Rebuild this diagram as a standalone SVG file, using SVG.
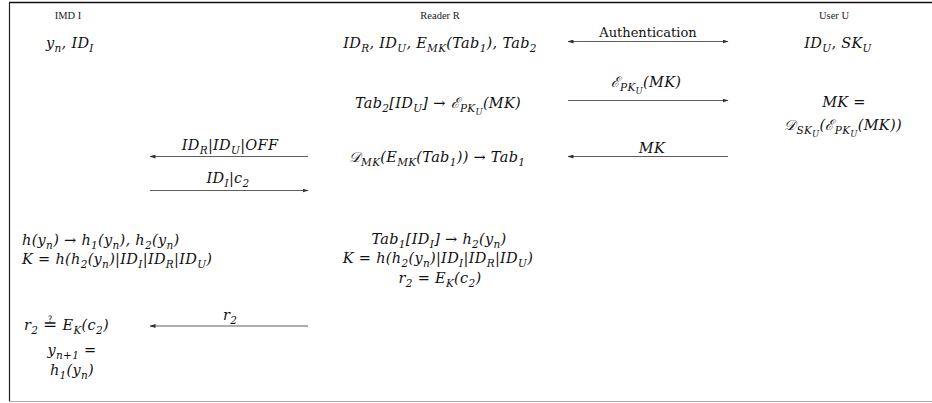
<svg xmlns="http://www.w3.org/2000/svg" width="932" height="403" viewBox="0 0 932 403">
  <style>
    .hd { font-family: "Liberation Serif", "DejaVu Serif", serif; font-size: 10.5px; fill: #222; }
    .m { font-family: "DejaVu Serif", "Liberation Serif", serif; font-style: italic; font-size: 14.5px; letter-spacing: 0.3px; fill: #111; }
    .up { font-family: "DejaVu Serif", "Liberation Serif", serif; font-size: 13px; fill: #111; }
    .eq { font-size: 17px; font-style: normal; }
    .s { font-size: 10.5px; }
    .ss { font-size: 8.5px; }
    .c { text-anchor: middle; }
    .ln { stroke: #333; stroke-width: 0.8; fill: none; }
  </style>
  <defs>
    <marker id="ah" viewBox="0 0 6 4" refX="5.5" refY="2" markerWidth="6" markerHeight="4" orient="auto-start-reverse" markerUnits="userSpaceOnUse">
      <path d="M0,0 L6,2 L0,4 Z" fill="#333"/>
    </marker>
  </defs>

  <rect width="932" height="403" fill="#fff"/>

  <!-- frame -->
  <g id="frame">
    <line x1="9" y1="2.5" x2="932" y2="2.5" stroke="#111" stroke-width="1.5"/>
    <line x1="9.5" y1="2" x2="9.5" y2="401" stroke="#222" stroke-width="1.2"/>
    <line x1="9" y1="401.5" x2="932" y2="401.5" stroke="#aaa" stroke-width="1.2"/>
  </g>

  <!-- IMD I column -->
  <g id="imd">
    <text class="hd c" x="68" y="19">IMD I</text>
    <text class="m" x="46" y="48">y<tspan class="s" dy="4">n</tspan><tspan dy="-4">, ID</tspan><tspan class="s" dy="4">I</tspan></text>
    <text class="m" x="22" y="245">h(y<tspan class="s" dy="4">n</tspan><tspan dy="-4">) → h</tspan><tspan class="s" dy="4">1</tspan><tspan dy="-4">(y</tspan><tspan class="s" dy="4">n</tspan><tspan dy="-4">), h</tspan><tspan class="s" dy="4">2</tspan><tspan dy="-4">(y</tspan><tspan class="s" dy="4">n</tspan><tspan dy="-4">)</tspan></text>
    <text class="m" x="22" y="264">K = h(h<tspan class="s" dy="4">2</tspan><tspan dy="-4">(y</tspan><tspan class="s" dy="4">n</tspan><tspan dy="-4">)|ID</tspan><tspan class="s" dy="4">I</tspan><tspan dy="-4">|ID</tspan><tspan class="s" dy="4">R</tspan><tspan dy="-4">|ID</tspan><tspan class="s" dy="4">U</tspan><tspan dy="-4">)</tspan></text>
    <text class="m" x="24" y="330">r<tspan class="s" dy="4">2</tspan><tspan class="eq" dy="-4" dx="5">≟</tspan><tspan dx="5">E</tspan><tspan class="s" dy="4">K</tspan><tspan dy="-4">(c</tspan><tspan class="s" dy="4">2</tspan><tspan dy="-4">)</tspan></text>
    <text class="m c" x="72" y="355">y<tspan class="s" dy="4">n+1</tspan><tspan dy="-4"> =</tspan></text>
    <text class="m c" x="72" y="375">h<tspan class="s" dy="4">1</tspan><tspan dy="-4">(y</tspan><tspan class="s" dy="4">n</tspan><tspan dy="-4">)</tspan></text>
  </g>

  <!-- Reader R column -->
  <g id="reader">
    <text class="hd c" x="440" y="19">Reader R</text>
    <text class="m c" x="440" y="48">ID<tspan class="s" dy="4">R</tspan><tspan dy="-4">, ID</tspan><tspan class="s" dy="4">U</tspan><tspan dy="-4">, E</tspan><tspan class="s" dy="4">MK</tspan><tspan dy="-4">(Tab</tspan><tspan class="s" dy="4">1</tspan><tspan dy="-4">), Tab</tspan><tspan class="s" dy="4">2</tspan></text>
    <text class="m c" x="438" y="108">Tab<tspan class="s" dy="4">2</tspan><tspan dy="-4">[ID</tspan><tspan class="s" dy="4">U</tspan><tspan dy="-4">] → ℰ</tspan><tspan class="s" dy="4">PK</tspan><tspan class="ss" dy="3">U</tspan><tspan dy="-7">(MK)</tspan></text>
    <text class="m c" x="437" y="162">𝒟<tspan class="s" dy="4">MK</tspan><tspan dy="-4">(E</tspan><tspan class="s" dy="4">MK</tspan><tspan dy="-4">(Tab</tspan><tspan class="s" dy="4">1</tspan><tspan dy="-4">)) → Tab</tspan><tspan class="s" dy="4">1</tspan></text>
    <text class="m c" x="439" y="244">Tab<tspan class="s" dy="4">1</tspan><tspan dy="-4">[ID</tspan><tspan class="s" dy="4">I</tspan><tspan dy="-4">] → h</tspan><tspan class="s" dy="4">2</tspan><tspan dy="-4">(y</tspan><tspan class="s" dy="4">n</tspan><tspan dy="-4">)</tspan></text>
    <text class="m c" x="438" y="263">K = h(h<tspan class="s" dy="4">2</tspan><tspan dy="-4">(y</tspan><tspan class="s" dy="4">n</tspan><tspan dy="-4">)|ID</tspan><tspan class="s" dy="4">I</tspan><tspan dy="-4">|ID</tspan><tspan class="s" dy="4">R</tspan><tspan dy="-4">|ID</tspan><tspan class="s" dy="4">U</tspan><tspan dy="-4">)</tspan></text>
    <text class="m c" x="440" y="283">r<tspan class="s" dy="4">2</tspan><tspan dy="-4"> = E</tspan><tspan class="s" dy="4">K</tspan><tspan dy="-4">(c</tspan><tspan class="s" dy="4">2</tspan><tspan dy="-4">)</tspan></text>
  </g>

  <!-- User U column -->
  <g id="user">
    <text class="hd c" x="834" y="19">User U</text>
    <text class="m c" x="838" y="48">ID<tspan class="s" dy="4">U</tspan><tspan dy="-4">, SK</tspan><tspan class="s" dy="4">U</tspan></text>
    <text class="m c" x="844" y="107">MK =</text>
    <text class="m c" x="843" y="130">𝒟<tspan class="s" dy="4">SK</tspan><tspan class="ss" dy="3">U</tspan><tspan dy="-7">(ℰ</tspan><tspan class="s" dy="4">PK</tspan><tspan class="ss" dy="3">U</tspan><tspan dy="-7">(MK))</tspan></text>
  </g>

  <!-- messages between the parties -->
  <g id="connectors">
    <line class="ln" x1="568" y1="41.5" x2="728" y2="41.5" marker-start="url(#ah)" marker-end="url(#ah)"/>
    <text class="up c" x="648" y="37">Authentication</text>

    <line class="ln" x1="568" y1="100.5" x2="728" y2="100.5" marker-end="url(#ah)"/>
    <text class="m c" x="646" y="87">ℰ<tspan class="s" dy="4">PK</tspan><tspan class="ss" dy="3">U</tspan><tspan dy="-7">(MK)</tspan></text>

    <line class="ln" x1="728" y1="156.5" x2="568" y2="156.5" marker-end="url(#ah)"/>
    <text class="m c" x="652" y="153">MK</text>

    <line class="ln" x1="308" y1="156.5" x2="150" y2="156.5" marker-end="url(#ah)"/>
    <text class="m c" x="230" y="150">ID<tspan class="s" dy="4">R</tspan><tspan dy="-4">|ID</tspan><tspan class="s" dy="4">U</tspan><tspan dy="-4">|OFF</tspan></text>

    <line class="ln" x1="150" y1="190.5" x2="308" y2="190.5" marker-end="url(#ah)"/>
    <text class="m c" x="228" y="183">ID<tspan class="s" dy="4">I</tspan><tspan dy="-4">|c</tspan><tspan class="s" dy="4">2</tspan></text>

    <line class="ln" x1="308" y1="326" x2="150" y2="326" marker-end="url(#ah)"/>
    <text class="m c" x="230" y="320">r<tspan class="s" dy="4">2</tspan></text>
  </g>
</svg>
